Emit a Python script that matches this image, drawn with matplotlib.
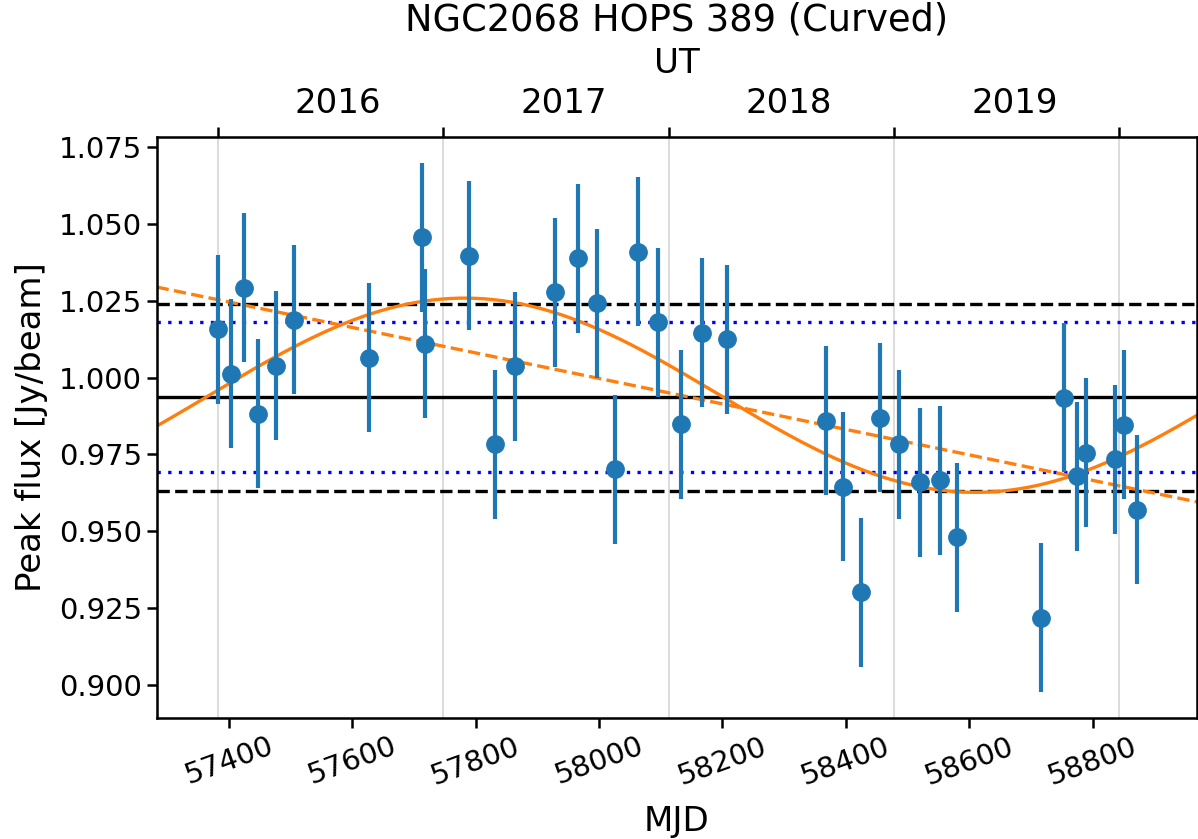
import numpy as np
import matplotlib
matplotlib.use("Agg")
import matplotlib.pyplot as plt

# ---- data ----
mjd = [57382.6, 57402.8, 57424.3, 57446.5, 57475.7, 57504.9, 57627.0, 57712.5,
       57718.4, 57789.7, 57831.4, 57863.8, 57928.7, 57965.5, 57997.3, 58025.5,
       58063.8, 58095.2, 58133.0, 58166.0, 58208.0, 58367.7, 58395.7, 58423.8,
       58455.2, 58486.0, 58519.5, 58552.5, 58580.1, 58715.7, 58753.0, 58774.7,
       58788.7, 58836.8, 58850.3, 58872.5]
flux = [1.0157, 1.0012, 1.0291, 0.9882, 1.0039, 1.0188, 1.0065, 1.0456,
        1.0109, 1.0395, 0.9783, 1.0037, 1.0277, 1.0388, 1.0241, 0.9702,
        1.0409, 1.0180, 0.9848, 1.0146, 1.0124, 0.9860, 0.9645, 0.9302,
        0.9870, 0.9784, 0.9660, 0.9666, 0.9481, 0.9220, 0.9934, 0.9679,
        0.9755, 0.9735, 0.9846, 0.9571]
flux_err = [0.0242] * len(mjd)

# reference levels
mean_level = 0.9937
dotted_levels = [1.0181, 0.9693]
dashed_levels = [1.0239, 0.9633]

# fitted models (parameters)
lin_intercept = 1.0294      # value at lin_ref_mjd
lin_ref_mjd = 57282.6
lin_slope = -4.139e-5       # per day
sin_mean = 0.99425
sin_amp = 0.03155
sin_period = 1656.0
sin_tmax = 57782.0

# top axis (UT)
year_start_mjd = [57382.2, 57747.5, 58112.7, 58478.0, 58843.2]
year_label_mjd = [57577, 57942, 58307, 58673]
year_labels = ["2016", "2017", "2018", "2019"]

xlim = (57282.6, 58969.3)
ylim = (0.8895, 1.0783)
xticks = [57400, 57600, 57800, 58000, 58200, 58400, 58600, 58800]
yticks = [0.900, 0.925, 0.950, 0.975, 1.000, 1.025, 1.050, 1.075]

fig = plt.figure(figsize=(11.98, 8.39), dpi=100)
ax = fig.add_axes([0.1307, 0.1446, 0.8685, 0.6927])

for xm in year_start_mjd:
    ax.axvline(xm, color="#d9d9d9", lw=1.3, zorder=0)

ax.axhline(mean_level, color="black", lw=2.4, zorder=1)
for lv in dotted_levels:
    ax.axhline(lv, color="blue", ls=(0, (1, 2.2)), lw=2.4, zorder=1)
for lv in dashed_levels:
    ax.axhline(lv, color="black", ls=(0, (3.7, 1.6)), lw=2.4, zorder=1)

t = np.linspace(xlim[0], xlim[1], 600)
ax.plot(t, lin_intercept + lin_slope * (t - lin_ref_mjd), color="#ff7f0e",
        ls=(0, (3.7, 1.6)), lw=2.4, zorder=2)
ax.plot(t, sin_mean + sin_amp * np.cos(2 * np.pi * (t - sin_tmax) / sin_period),
        color="#ff7f0e", lw=2.4, zorder=2)

ax.errorbar(mjd, flux, yerr=flux_err, fmt="o", color="#1f77b4", ms=12.5,
            elinewidth=3.0, capsize=0, zorder=3)

ax.set_xlim(*xlim)
ax.set_ylim(*ylim)
ax.set_xticks(xticks)
ax.set_yticks(yticks)
ax.set_yticklabels([f"{v:.3f}" for v in yticks])
ax.tick_params(axis="both", labelsize=21, width=1.8, length=7)
for lab in ax.get_xticklabels():
    lab.set_rotation(20)
ax.set_xlabel("MJD", fontsize=24.5, labelpad=11)
ax.set_ylabel("Peak flux [Jy/beam]", fontsize=24.5, labelpad=8)
for sp in ax.spines.values():
    sp.set_linewidth(1.8)

ax2 = ax.twiny()
ax2.set_xlim(*xlim)
ax2.set_xticks(year_start_mjd)
ax2.set_xticklabels([""] * len(year_start_mjd))
ax2.set_xticks(year_label_mjd, minor=True)
ax2.set_xticklabels(year_labels, minor=True)
ax2.tick_params(axis="x", which="major", width=1.8, length=7)
ax2.tick_params(axis="x", which="minor", length=0, labelsize=24.5, pad=12)
ax2.set_xlabel("UT", fontsize=24.5, labelpad=10)
ax2.set_title("NGC2068 HOPS 389 (Curved)", fontsize=26.5, pad=12)

fig.savefig("out.png", dpi=100)
